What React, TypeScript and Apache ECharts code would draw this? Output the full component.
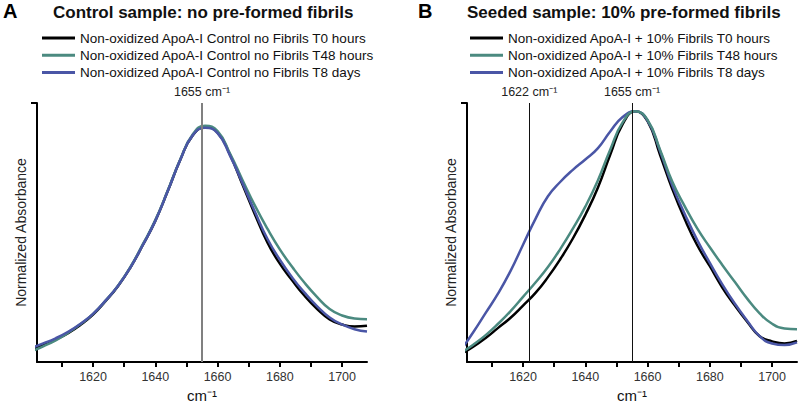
import React, { useEffect, useRef } from "react";
import * as echarts from "echarts";

const FONT = "Liberation Sans, Arial, sans-serif";

// wavenumbers (cm-1), shared sampling
const wn = [1600, 1604, 1608, 1612, 1616, 1620, 1624, 1628, 1632, 1636, 1640, 1644, 1648, 1652, 1656, 1660, 1664, 1668, 1672, 1676, 1680, 1684, 1688, 1692, 1696, 1700, 1704, 1708];

// Panel A: control, no pre-formed fibrils
const aT0 = [0.049, 0.067, 0.087, 0.112, 0.144, 0.183, 0.235, 0.293, 0.365, 0.452, 0.545, 0.66, 0.78, 0.875, 0.906, 0.886, 0.8, 0.685, 0.57, 0.462, 0.38, 0.315, 0.255, 0.205, 0.165, 0.145, 0.137, 0.14];
const aT48 = [0.04, 0.061, 0.084, 0.113, 0.147, 0.186, 0.237, 0.295, 0.367, 0.455, 0.548, 0.662, 0.782, 0.878, 0.912, 0.892, 0.805, 0.703, 0.604, 0.515, 0.435, 0.367, 0.305, 0.251, 0.205, 0.18, 0.168, 0.165];
const aT8d = [0.054, 0.072, 0.092, 0.117, 0.148, 0.186, 0.237, 0.294, 0.365, 0.452, 0.545, 0.66, 0.78, 0.875, 0.904, 0.884, 0.797, 0.69, 0.58, 0.476, 0.395, 0.326, 0.267, 0.215, 0.172, 0.145, 0.127, 0.118];

// Panel B: seeded, 10% pre-formed fibrils
const bT0 = [0.03, 0.059, 0.093, 0.132, 0.171, 0.218, 0.267, 0.328, 0.398, 0.477, 0.568, 0.672, 0.8, 0.918, 0.968, 0.93, 0.8, 0.666, 0.55, 0.45, 0.37, 0.288, 0.219, 0.156, 0.1, 0.08, 0.072, 0.082];
const bT48 = [0.035, 0.067, 0.104, 0.148, 0.197, 0.252, 0.307, 0.367, 0.437, 0.515, 0.6, 0.7, 0.82, 0.925, 0.968, 0.935, 0.82, 0.695, 0.6, 0.515, 0.443, 0.375, 0.31, 0.245, 0.188, 0.148, 0.13, 0.127];
const bT8d = [0.045, 0.115, 0.19, 0.265, 0.352, 0.453, 0.553, 0.64, 0.696, 0.742, 0.782, 0.825, 0.89, 0.946, 0.968, 0.932, 0.815, 0.68, 0.57, 0.47, 0.383, 0.3, 0.226, 0.16, 0.1, 0.072, 0.066, 0.076];

const tickValues = [1610, 1620, 1630, 1640, 1650, 1660, 1670, 1680, 1690, 1700];
const labelValues = [1620, 1640, 1660, 1680, 1700];

const namesA = [
  "Non-oxidized ApoA-I Control no Fibrils T0 hours",
  "Non-oxidized ApoA-I Control no Fibrils T48 hours",
  "Non-oxidized ApoA-I Control no Fibrils T8 days",
];
const namesB = [
  "Non-oxidized ApoA-I + 10% Fibrils T0 hours",
  "Non-oxidized ApoA-I + 10% Fibrils T48 hours",
  "Non-oxidized ApoA-I + 10% Fibrils T8 days",
];
const colors = ["#000000", "#4b8a80", "#4a56a6"];

const peakLinesA = [1655];
const peakLinesB = [1622, 1655];

export default function App() {
  const ref = useRef<HTMLDivElement>(null);
  useEffect(() => {
    document.body.style.margin = "0";
    const chart = echarts.init(ref.current!, null, { renderer: "svg" });
    const pair = (v: number[]) => wn.map((w, i) => [w, v[i]]);

    const xAxis = (gridIndex: number) => ({
      type: "value",
      gridIndex,
      min: 1602,
      max: 1708,
      axisLine: { show: true, lineStyle: { color: "#000", width: 2 } },
      axisTick: { show: true, customValues: tickValues, length: 5, lineStyle: { color: "#000", width: 2 } },
      axisLabel: {
        customValues: labelValues,
        formatter: (v: number) => String(v),
        color: "#333",
        fontSize: 12.5,
        fontFamily: FONT,
        margin: 8,
      },
      splitLine: { show: false },
      name: "cm⁻¹",
      nameLocation: "middle",
      nameGap: 25,
      nameTextStyle: { color: "#111", fontSize: 15, fontFamily: FONT },
    });
    const yAxis = (gridIndex: number) => ({
      type: "value",
      gridIndex,
      min: 0,
      max: 1,
      axisLine: { show: true, lineStyle: { color: "#000", width: 2 } },
      axisTick: { show: true, customValues: [1], length: 6, lineStyle: { color: "#000", width: 2 } },
      axisLabel: { show: false },
      splitLine: { show: false },
      name: "Normalized Absorbance",
      nameLocation: "middle",
      nameGap: 9,
      nameTextStyle: { color: "#222", fontSize: 14, fontFamily: FONT },
    });

    const mkLine = (vals: number[], color: string, width: number) => ({
      silent: true,
      symbol: ["none", "none"],
      lineStyle: { color, width, type: "solid" },
      label: {
        show: true,
        position: "end",
        distance: 5,
        color: "#222",
        fontSize: 12.5,
        fontFamily: FONT,
        formatter: (p: any) => `${p.value} cm⁻¹`,
      },
      emphasis: { disabled: true },
      data: vals.map((v) => ({ xAxis: v })),
    });

    const line = (name: string, data: number[][], color: string, idx: number, extra: any = {}) => ({
      name,
      type: "line",
      xAxisIndex: idx,
      yAxisIndex: idx,
      data,
      smooth: 0.5,
      showSymbol: false,
      clip: true,
      lineStyle: { color, width: 2.5 },
      itemStyle: { color },
      ...extra,
    });

    const legend = (data: string[], left: number) => ({
      data,
      orient: "vertical",
      left,
      top: 31,
      itemWidth: 33,
      itemHeight: 3,
      itemGap: 3.2,
      icon: "rect",
      padding: 0,
      textStyle: { fontSize: 13.5, color: "#111", fontFamily: FONT },
      selectedMode: false,
    });

    const bigLetter = { fontSize: 20, fontWeight: "bold", color: "#000", fontFamily: FONT };
    const heading = { fontSize: 17, fontWeight: "bold", color: "#111", fontFamily: FONT };

    chart.setOption({
      animation: false,
      textStyle: { fontFamily: FONT },
      title: [
        { text: "A", left: 3, top: 1, padding: 0, textStyle: bigLetter },
        { text: "Control sample: no pre-formed fibrils", left: 53, top: 4, padding: 0, textStyle: heading },
        { text: "B", left: 418, top: 1, padding: 0, textStyle: bigLetter },
        { text: "Seeded sample: 10% pre-formed fibrils", left: 467, top: 4, padding: 0, textStyle: heading },
      ],
      legend: [legend(namesA, 42), legend(namesB, 470)],
      grid: [
        { left: 37, right: 433, top: 103, bottom: 45 },
        { left: 467, right: 3, top: 103, bottom: 45 },
      ],
      xAxis: [xAxis(0), xAxis(1)],
      yAxis: [yAxis(0), yAxis(1)],
      series: [
        line(namesA[0], pair(aT0), colors[0], 0, { markLine: mkLine(peakLinesA, "#808080", 2) }),
        line(namesA[1], pair(aT48), colors[1], 0),
        line(namesA[2], pair(aT8d), colors[2], 0),
        line(namesB[0], pair(bT0), colors[0], 1, { markLine: mkLine(peakLinesB, "#111", 1) }),
        line(namesB[2], pair(bT8d), colors[2], 1),
        line(namesB[1], pair(bT48), colors[1], 1),
      ],
    });
    return () => chart.dispose();
  }, []);
  return <div ref={ref} style={{ width: 800, height: 408 }} />;
}
